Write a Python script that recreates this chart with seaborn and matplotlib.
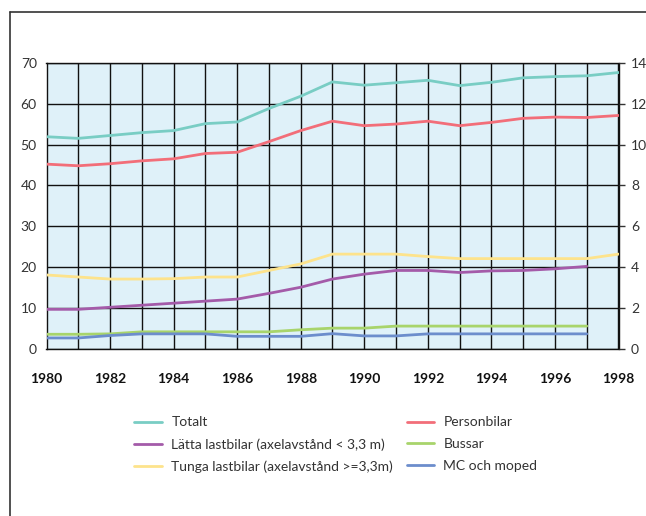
import numpy as np
import pandas as pd
import seaborn as sns
import matplotlib.pyplot as plt
from matplotlib.lines import Line2D

years = list(range(1980, 1999))
totalt = [51.9, 51.5, 52.2, 52.9, 53.4, 55.1, 55.5, 58.8, 61.8, 65.3, 64.5, 65.1, 65.7,
          64.4, 65.2, 66.3, 66.6, 66.8, 67.6]
personbilar = [45.2, 44.8, 45.3, 46.0, 46.5, 47.8, 48.1, 50.7, 53.4, 55.7, 54.6, 55.0, 55.7,
               54.6, 55.4, 56.4, 56.7, 56.6, 57.1]
latta = [9.7, 9.7, 10.2, 10.7, 11.2, 11.7, 12.2, 13.6, 15.1, 17.1, 18.3, 19.2, 19.2,
         18.7, 19.1, 19.2, 19.6, 20.2, np.nan]
bussar = [3.6, 3.6, 3.7, 4.2, 4.2, 4.2, 4.2, 4.2, 4.7, 5.1, 5.1, 5.6, 5.6,
          5.6, 5.6, 5.6, 5.6, 5.6, np.nan]
tunga = [18.1, 17.6, 17.1, 17.1, 17.2, 17.6, 17.6, 19.2, 20.8, 23.2, 23.2, 23.2, 22.6,
         22.1, 22.1, 22.1, 22.1, 22.1, 23.2]
mc = [2.7, 2.7, 3.3, 3.7, 3.7, 3.7, 3.1, 3.1, 3.1, 3.75, 3.2, 3.2, 3.7,
      3.7, 3.7, 3.7, 3.7, 3.7, np.nan]

labels = ["Totalt", "Lätta lastbilar (axelavstånd < 3,3 m)", "Tunga lastbilar (axelavstånd >=3,3m)",
          "Personbilar", "Bussar", "MC och moped"]
series = [totalt, latta, tunga, personbilar, bussar, mc]
colors = ["#79cdc4", "#a45ba9", "#fde38c", "#f26e79", "#a8d46b", "#6c8dcc"]

sns.set_style("white")
plt.rcParams['font.family'] = ['Lato', 'DejaVu Sans']
txt = "#333333"

fig = plt.figure(figsize=(6.46, 5.16), dpi=100)
ax = fig.add_axes([46.5 / 646, 1 - 349 / 516, 572 / 646, 286.3 / 516])
ax.set_facecolor("#dff1f9")

for lab, vals, col in zip(labels, series, colors):
    df = pd.DataFrame({"year": years, "value": vals}).dropna()
    sns.lineplot(data=df, x="year", y="value", color=col, linewidth=2.0, ax=ax,
                 label=lab, legend=False, zorder=3)

ax.set_xlim(1980, 1998)
ax.set_ylim(0, 70)
ax.set_xticks(range(1980, 1999, 2))
ax.set_xticks(range(1980, 1999), minor=True)
ax.set_yticks(range(0, 71, 10))
ax.grid(True, which="both", color="#111111", linewidth=1.0, zorder=1)
ax.set_axisbelow(True)
for s in ax.spines.values():
    s.set_color("#111111")
    s.set_linewidth(1.0)
ax.tick_params(axis="x", which="both", length=0, pad=17, labelsize=10, labelcolor="#111111")
ax.tick_params(axis="y", length=0, pad=7, labelsize=10, labelcolor=txt)
for t in ax.get_xticklabels():
    t.set_fontweight("bold")
ax.set_xlabel("")
ax.set_ylabel("")

ax2 = ax.twinx()
ax2.set_ylim(0, 14)
ax2.set_yticks(range(0, 15, 2))
ax2.tick_params(axis="y", length=4, width=1, color="#333333", pad=5, labelsize=10, labelcolor=txt)
for s in ax2.spines.values():
    s.set_visible(False)

handles = [Line2D([], [], color=c, linewidth=2.0) for c in colors]
leg_kw = dict(loc="upper left", frameon=False, fontsize=10, handlelength=2.0, handletextpad=0.65,
              labelspacing=0.7, labelcolor=txt)
fig.legend(handles[:3], labels[:3], bbox_to_anchor=(122 / 646, 1 - 404 / 516), **leg_kw)
fig.legend(handles[3:], labels[3:], bbox_to_anchor=(394 / 646, 1 - 404 / 516), **leg_kw)

# outer frame (top and left only)
fig.add_artist(Line2D([9.5 / 646, 9.5 / 646], [0, 1 - 11.5 / 516], transform=fig.transFigure,
                      color="#333333", linewidth=1.2))
fig.add_artist(Line2D([9.5 / 646, 1], [1 - 11.5 / 516, 1 - 11.5 / 516], transform=fig.transFigure,
                      color="#333333", linewidth=1.2))

fig.savefig("out.png", dpi=100)
